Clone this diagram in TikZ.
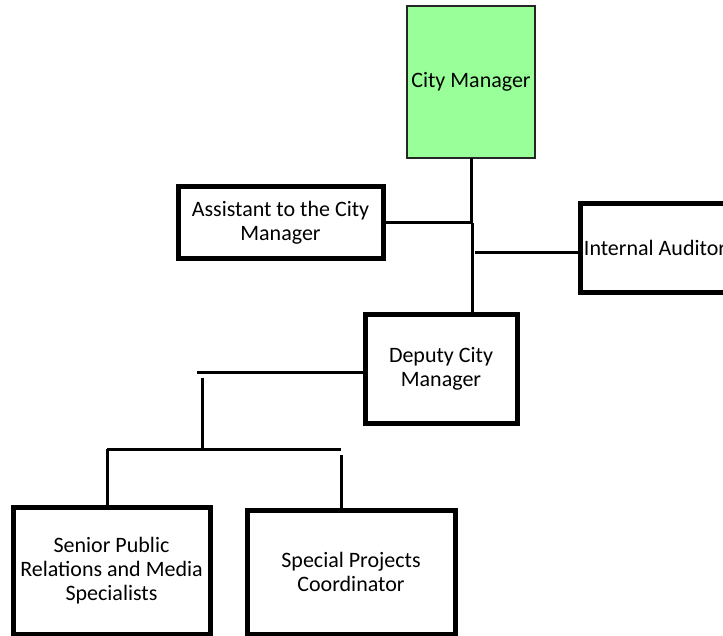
\documentclass[tikz,border=0pt]{standalone}
\usepackage{fontspec}
\setmainfont{Carlito}
\usepackage{tikz}
\definecolor{cmgreen}{RGB}{153,255,153}
\newcommand{\link}[2]{\draw[line width=3pt] (#1) -- (#2);}

\begin{document}
\begin{tikzpicture}[x=1pt,y=-1pt,
	office/.style={draw=black,line width=5pt,align=center,inner sep=0pt,
		font=\fontsize{22}{24}\selectfont},
	chief/.style={office,fill=cmgreen,draw=black!85,line width=1.5pt}]
					% Page frame
					\clip (0,0) rectangle (723,636);
					
					% The offices
					\node[chief,minimum width=128,minimum height=152] (cm) at (471,82) {City Manager};
					\node[office,minimum width=205,minimum height=72] (asst) at (280.5,223) {Assistant to the City\\Manager};
					\node[office,minimum width=150,minimum height=89] (audit) at (655,248) {Internal Auditor};
					\node[office,minimum width=152,minimum height=108] (deputy) at (441,369) {Deputy City\\Manager};
					\node[office,minimum width=197,minimum height=127] (senior) at (111.5,570.5) {Senior Public\\Relations and Media\\Specialists};
					\node[office,minimum width=208,minimum height=124] (special) at (351,572) {Special Projects\\Coordinator};
					
					% Junction points
					\coordinate (jcm) at (471,158);
					\coordinate (ja) at (471,223);
					\coordinate (jb) at (472,223);
					\coordinate (jaud) at (475,253);
					\coordinate (jd) at (197,372);
					\coordinate (jv) at (202,378);
					\coordinate (jh) at (202,449);
					\coordinate (jl) at (107,449);
					\coordinate (jr) at (341,449);
					\coordinate (js) at (341,455);
					
					% Lines from the City Manager
					\link{jcm}{ja}
					\link{ja}{asst.east |- ja}
					\link{jb}{jb |- deputy.north}
					\link{jaud}{jaud -| audit.west}
					
					% Lines below the Deputy City Manager
					\link{jd -| deputy.west}{jd}
					\link{jv}{jh}
					\link{jl}{jr}
					\link{jl}{jl |- senior.north}
					\link{js}{js |- special.north}
				\end{tikzpicture}
\end{document}
